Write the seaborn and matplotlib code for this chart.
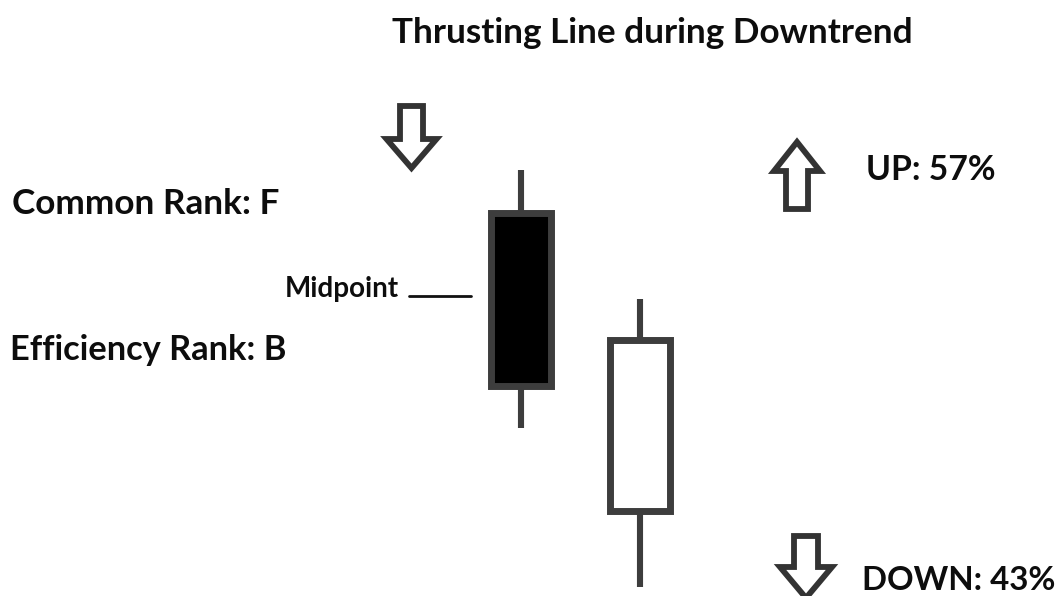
import matplotlib
matplotlib.use("Agg")
import matplotlib.pyplot as plt
from matplotlib.patches import Polygon
import numpy as np
import pandas as pd
import seaborn as sns

# ---------------- data ----------------
candles = ["Bearish day", "Thrusting day"]
opens = [383, 85]
closes = [210, 256]
highs = [426, 297]
lows = [168, 9]
body_colors = ["black", "white"]

title = "Thrusting Line during Downtrend"
common_rank = "Common Rank: F"
efficiency_rank = "Efficiency Rank: B"
up_label = "UP: 57%"
down_label = "DOWN: 43%"
mid_label = "Midpoint"

# ---------------- style ----------------
sns.set_theme(style="white")
plt.rcParams["font.family"] = ["Lato", "DejaVu Sans"]

W, H, DPI = 1061, 596, 100
fig = plt.figure(figsize=(W / DPI, H / DPI), dpi=DPI)
fig.patch.set_facecolor("white")
ax = fig.add_axes([0, 0, 1, 1])

EDGE = "#3d3d3d"

body_bottom = np.minimum(opens, closes)
body_height = np.abs(np.array(closes) - np.array(opens))
df = pd.DataFrame({"candle": candles, "height": body_height})

sns.barplot(data=df, x="candle", y="height", bottom=body_bottom,
            width=0.51, color="black", saturation=1,
            facecolor=body_colors, edgecolor=EDGE,
            linewidth=5.0, ax=ax, zorder=2)

wick = pd.DataFrame({
    "x": [0, 0, 1, 1],
    "price": [highs[0], lows[0], highs[1], lows[1]],
    "candle": [candles[0], candles[0], candles[1], candles[1]],
})
sns.lineplot(data=wick, x="x", y="price", units="candle", estimator=None,
             sort=False, color=EDGE, linewidth=4.4, ax=ax, zorder=1,
             solid_capstyle="butt")

px_per_unit = 119.0
x0_px = 521.0
ax.set_xlim(-x0_px / px_per_unit, (W - x0_px) / px_per_unit)
ax.set_ylim(0, H)
ax.axis("off")

# ---------------- overlay (pixel coords) for annotations ----------------
ov = fig.add_axes([0, 0, 1, 1], facecolor="none")
ov.set_xlim(0, W)
ov.set_ylim(H, 0)
ov.axis("off")

renderer = fig.canvas.get_renderer()


def place(text, left, baseline, right, guess=20, color="#0d0d0d"):
    t = ov.text(left, baseline, text, ha="left", va="baseline",
                fontsize=guess, fontweight="bold", color=color)
    bb = t.get_window_extent(renderer=renderer)
    t.set_fontsize(guess * (right - left) / bb.width)
    return t


place(title, 392, 43, 912, 28)
place(common_rank, 12, 214, 279, 20)
place(efficiency_rank, 10, 360, 287, 20)
place(mid_label, 285, 297, 398, 12)
place(up_label, 866, 180, 995, 22)
place(down_label, 862, 590, 1055, 22)

# midpoint pointer line
ov.plot([409, 471], [296, 296], color="#111111", linewidth=2.0)


def block_arrow(cx, y_base, y_neck, y_tip, shaft_half, head_half):
    pts = [
        (cx - shaft_half, y_base),
        (cx + shaft_half, y_base),
        (cx + shaft_half, y_neck),
        (cx + head_half, y_neck),
        (cx, y_tip),
        (cx - head_half, y_neck),
        (cx - shaft_half, y_neck),
    ]
    ov.add_patch(Polygon(pts, closed=True, facecolor="white",
                         edgecolor="#333333", linewidth=4.2,
                         joinstyle="miter"))


block_arrow(411.5, 106, 139, 168, 11.5, 25)   # down arrow (top)
block_arrow(797, 209, 171, 142, 11, 23)        # up arrow
block_arrow(806, 536, 567, 598, 12, 26)        # down arrow (bottom)

fig.savefig("out.png", dpi=DPI, facecolor="white")
